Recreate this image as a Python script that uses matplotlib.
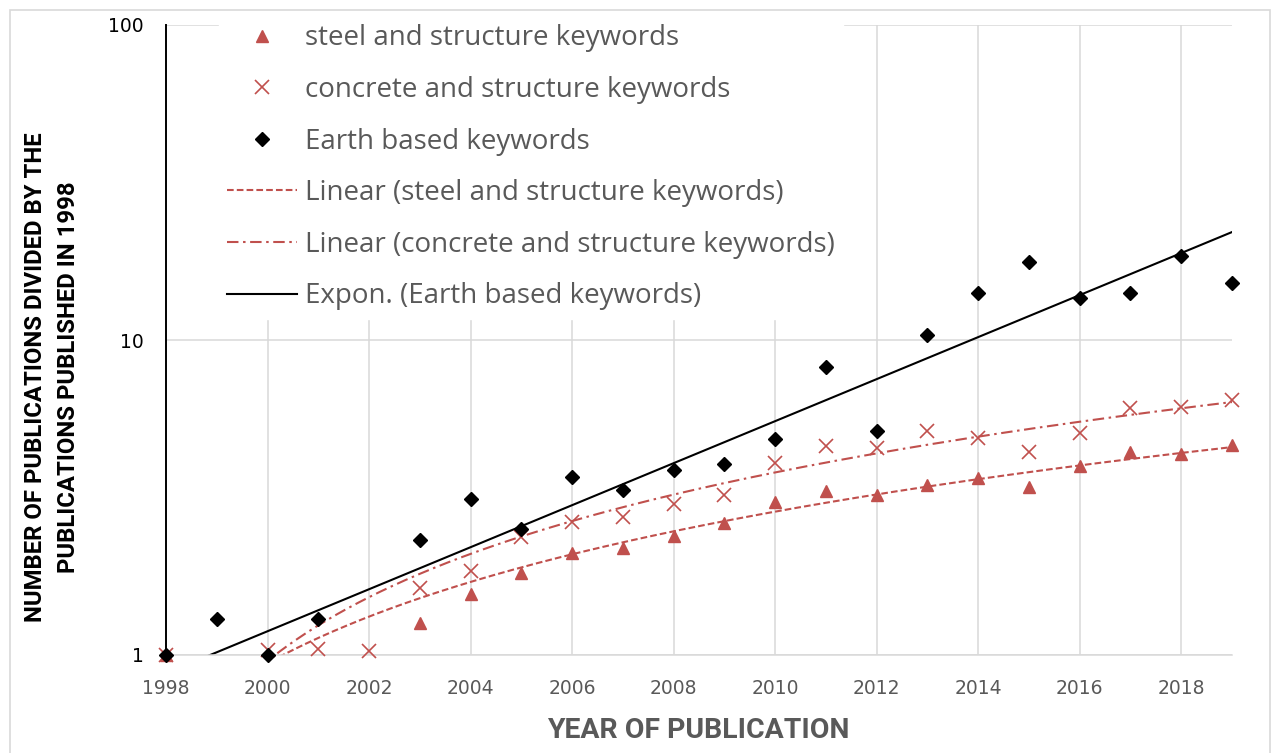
import numpy as np
import matplotlib
matplotlib.use("Agg")
import matplotlib.pyplot as plt
from matplotlib.patches import Rectangle
from matplotlib.ticker import NullLocator

nan = np.nan

# data (normalised to 1998)
years = list(range(1998, 2020))
steel = [1.0, nan, nan, nan, nan, 1.26, 1.56, 1.82, 2.11, 2.19, 2.39, 2.62,
         3.06, 3.32, 3.22, 3.46, 3.65, 3.41, 3.98, 4.41, 4.35, 4.64]
concrete = [1.0, nan, 1.04, 1.045, 1.03, 1.63, 1.85, 2.37, 2.64, 2.74, 3.02, 3.22,
            4.07, 4.61, 4.54, 5.14, 4.89, 4.41, 5.07, 6.08, 6.12, 6.45]
earth = [1.0, 1.30, 1.0, 1.30, nan, 2.32, 3.13, 2.51, 3.67, 3.34, 3.87, 4.04,
         4.85, 8.2, 5.14, 10.4, 14.1, 17.7, 13.6, 14.1, 18.5, 15.2]

# trendlines as shown (value in 1998, change per year)
steel_trend = (0.56, 0.191)
concrete_trend = (0.39, 0.284)
earth_trend = (0.875, 1.166)   # exponential: growth factor per year

xticks = list(range(1998, 2019, 2))
yticks = [1, 10, 100]

labels = ["steel and structure keywords",
          "concrete and structure keywords",
          "Earth based keywords",
          "Linear (steel and structure keywords)",
          "Linear (concrete and structure keywords)",
          "Expon. (Earth based keywords)"]
xlabel = "YEAR OF PUBLICATION"
ylabel1 = "NUMBER OF PUBLICATIONS DIVIDED BY THE"
ylabel2 = "PUBLICATIONS PUBLISHED IN 1998"

red = "#C0504D"
grey = "#595959"
grid = "#D9D9D9"
title_font = ["Roboto", "DejaVu Sans"]

W, H = 1272, 753
fig = plt.figure(figsize=(W / 100, H / 100), dpi=100)
fig.patches.append(Rectangle((10 / W, -0.02), 1260 / W, 743 / H + 0.02,
                             transform=fig.transFigure, fill=False,
                             edgecolor=grid, lw=1.2))

ax = fig.add_axes([166 / W, 98 / H, (1232 - 166) / W, 630 / H])
ax.set_yscale("log")
ax.set_xlim(1998, 2019)
ax.set_ylim(1, 100)
ax.set_xticks(xticks)
ax.set_xticklabels([str(x) for x in xticks])
ax.set_yticks(yticks)
ax.set_yticklabels([str(y) for y in yticks])
ax.yaxis.set_minor_locator(NullLocator())
ax.grid(True, color=grid, lw=1.1)
ax.set_axisbelow(True)
for s in ["top", "right"]:
    ax.spines[s].set_visible(False)
ax.spines["left"].set_color("black")
ax.spines["left"].set_linewidth(1.4)
ax.spines["bottom"].set_color(grid)
ax.spines["bottom"].set_linewidth(1.1)
ax.tick_params(axis="x", length=0, pad=17, labelsize=13.5, labelcolor=grey)
ax.tick_params(axis="y", length=0, pad=16, labelsize=13.5, labelcolor="black")

xf = np.linspace(1998, 2019, 300)
l1, = ax.plot(xf, steel_trend[0] + steel_trend[1] * (xf - 1998), color=red,
              lw=1.5, dashes=(3.2, 1.5), label=labels[3])
l2, = ax.plot(xf, concrete_trend[0] + concrete_trend[1] * (xf - 1998), color=red,
              lw=1.5, dashes=(5.5, 2.2, 1.2, 2.2), label=labels[4])
l3, = ax.plot(xf, earth_trend[0] * earth_trend[1] ** (xf - 1998), color="black",
              lw=1.5, label=labels[5])

m1, = ax.plot(years, steel, ls="none", marker="^", ms=8.5, color=red,
              clip_on=False, label=labels[0], zorder=3)
m2, = ax.plot(years, concrete, ls="none", marker="x", ms=10, mew=1.2, color=red,
              clip_on=False, label=labels[1], zorder=3)
m3, = ax.plot(years, earth, ls="none", marker="D", ms=7.5, color="black",
              clip_on=False, label=labels[2], zorder=4)

leg = ax.legend(handles=[m1, m2, m3, l1, l2, l3], loc="upper left",
                bbox_to_anchor=(219 / W, 1 - 16 / H), bbox_transform=fig.transFigure,
                prop={"family": "Open Sans", "size": 20}, labelcolor=grey,
                numpoints=1, handlelength=2.5, handletextpad=0.3,
                labelspacing=0.85, borderpad=0.3, borderaxespad=0,
                frameon=True, fancybox=False, framealpha=1,
                facecolor="white", edgecolor="white")

fig.text(698 / W, 1 - 730 / H, xlabel, ha="center", va="center",
         family=title_font, fontweight="bold", size=20.4, color=grey)
fig.text(36 / W, 1 - 377 / H, ylabel1, rotation=90, ha="center", va="center",
         family=title_font, fontweight="bold", size=17.2, color="black")
fig.text(69 / W, 1 - 377 / H, ylabel2, rotation=90, ha="center", va="center",
         family=title_font, fontweight="bold", size=17.2, color="black")

fig.savefig("out.png", dpi=100, facecolor="white")
